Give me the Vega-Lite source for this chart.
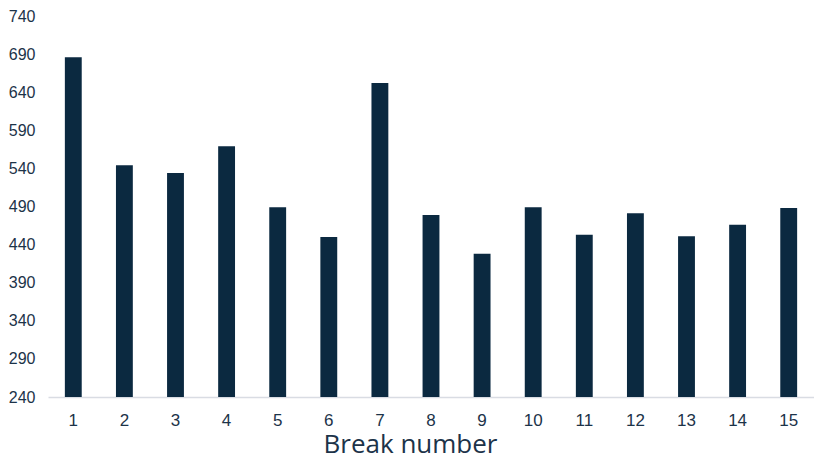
{
  "$schema": "https://vega.github.io/schema/vega-lite/v6.json",
  "width": 766,
  "height": 381,
  "autosize": "none",
  "padding": {"left": 48, "top": 16, "right": 0, "bottom": 62},
  "background": "#ffffff",
  "config": {
    "view": {"stroke": null},
    "axis": {
      "labelFont": "Liberation Sans",
      "labelColor": "#1c3349",
      "grid": false,
      "ticks": false
    }
  },
  "data": {
    "values": [
      {"break": "1", "value": 686},
      {"break": "2", "value": 544},
      {"break": "3", "value": 534},
      {"break": "4", "value": 569},
      {"break": "5", "value": 489},
      {"break": "6", "value": 450},
      {"break": "7", "value": 652},
      {"break": "8", "value": 479},
      {"break": "9", "value": 428},
      {"break": "10", "value": 489},
      {"break": "11", "value": 453},
      {"break": "12", "value": 481},
      {"break": "13", "value": 451},
      {"break": "14", "value": 466},
      {"break": "15", "value": 488}
    ]
  },
  "mark": {"type": "bar", "color": "#0b2940", "clip": true},
  "encoding": {
    "x": {
      "field": "break",
      "type": "ordinal",
      "sort": null,
      "scale": {"paddingInner": 0.67, "paddingOuter": 0.33},
      "axis": {
        "title": "Break number",
        "titleFont": "Open Sans",
        "titleFontSize": 26,
        "titleFontWeight": "normal",
        "titleColor": "#1c3349",
        "titlePadding": 3,
        "titleX": 362,
        "titleAnchor": null,
        "titleAlign": "center",
        "labelAngle": 0,
        "labelFontSize": 17,
        "labelPadding": 15,
        "domainColor": "#d9dce3",
        "domainWidth": 1.5
      }
    },
    "y": {
      "field": "value",
      "type": "quantitative",
      "scale": {"domain": [240, 740], "zero": false, "nice": false},
      "axis": {
        "title": null,
        "domain": false,
        "labelFontSize": 16,
        "values": [240, 290, 340, 390, 440, 490, 540, 590, 640, 690, 740],
        "labelPadding": 13
      }
    }
  }
}
